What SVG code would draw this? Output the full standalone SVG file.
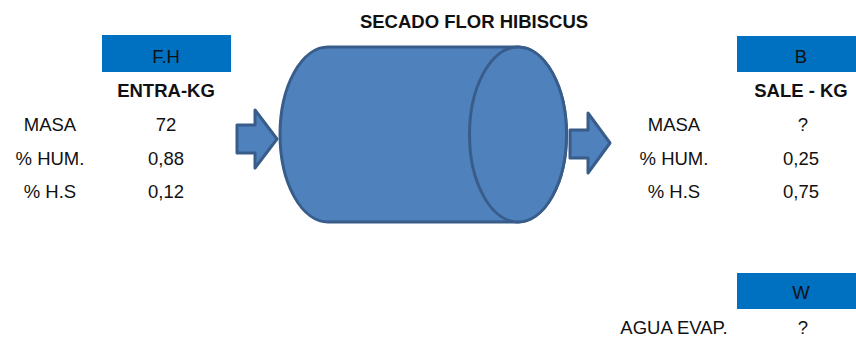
<svg xmlns="http://www.w3.org/2000/svg" width="856" height="338" viewBox="0 0 856 338">
<style>
.t{font-family:"Liberation Sans",Arial,sans-serif;font-size:18.5px;fill:#111;text-anchor:middle}
.b{font-weight:bold}
.hdr{fill:#0070c0}
.shape{fill:#4f81bd;stroke:#385d8a;stroke-width:3;stroke-linejoin:round}
</style>
<rect width="856" height="338" fill="#fff"/>
<text class="t b" x="474" y="28">SECADO FLOR HIBISCUS</text>
<g id="entrada">
<rect class="hdr" x="102" y="35" width="129" height="37"/>
<text class="t" x="166" y="63">F.H</text>
<text class="t b" x="166" y="97">ENTRA-KG</text>
<text class="t" x="50" y="131">MASA</text>
<text class="t" x="50" y="165">% HUM.</text>
<text class="t" x="50" y="198">% H.S</text>
<text class="t" x="166" y="131">72</text>
<text class="t" x="166" y="165">0,88</text>
<text class="t" x="166" y="198">0,12</text>
</g>
<g id="secador">
<path class="shape" d="M328,47 L518,47 A48.5,87.5 0 0 1 518,222 L328,222 A48,87.5 0 0 1 328,47 Z"/>
<ellipse class="shape" cx="518" cy="134.5" rx="48.5" ry="87.5"/>
</g>
<g id="connectors">
<path class="shape" d="M237,125 L255,125 L255,110 L277,139 L255,168 L255,153 L237,153 Z"/>
<path class="shape" d="M570,130 L588,130 L588,113 L610,143 L588,173 L588,158 L570,158 Z"/>
</g>
<g id="salida">
<rect class="hdr" x="737" y="36" width="129" height="36"/>
<text class="t" x="801" y="63">B</text>
<text class="t b" x="801" y="97">SALE - KG</text>
<text class="t" x="674" y="131">MASA</text>
<text class="t" x="674" y="165">% HUM.</text>
<text class="t" x="674" y="198">% H.S</text>
<text class="t" x="803" y="131">?</text>
<text class="t" x="801" y="165">0,25</text>
<text class="t" x="801" y="198">0,75</text>
</g>
<g id="agua">
<rect class="hdr" x="737" y="273" width="129" height="36"/>
<text class="t" x="801" y="299">W</text>
<text class="t" x="674" y="334">AGUA EVAP.</text>
<text class="t" x="803" y="334">?</text>
</g>
</svg>
